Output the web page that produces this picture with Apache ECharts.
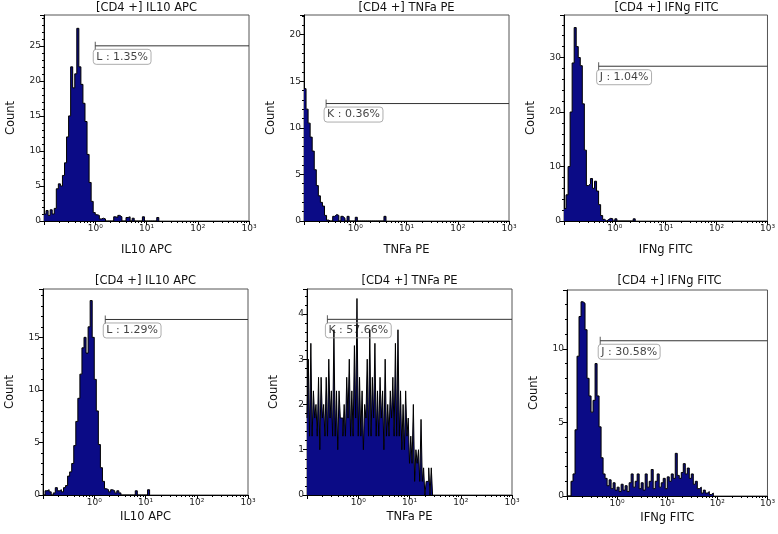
<!DOCTYPE html>
<html>
<head>
<meta charset="utf-8">
<script src="https://cdn.jsdelivr.net/npm/echarts@6/dist/echarts.min.js"></script>
<style>
  *{margin: 0; padding: 0;}
  html,body{width: 100%; height: 100%; background: #fff;}
  #chart{width: 778px; height: 534px;}
</style>
</head>
<body>
<div id="chart"></div>
<script>
// histogram counts, one value per bin; bins start at log10 = -1
var binStart = -1
var binStep = [0.04, 0.04, 0.04, 0.04, 0.025, 0.04]

var il10Top = [1, 1.5, 0.8, 1.6, 1.0, 1.8, 4.6, 5.3, 5.0, 6.5, 8.3, 12, 15, 22, 19, 21, 27.5, 22, 19.5, 16.8,
  14.2, 9.5, 5.5, 2.8, 1.2, 0.9, 0.8, 0.3, 0.4, 0.3, 0, 0, 0, 0, 0.6, 0.5, 0.8, 0.6, 0, 0,
  0.5, 0.6, 0, 0.4, 0, 0, 0, 0, 0.6, 0, 0, 0, 0, 0, 0, 0.5]
var tnfaTop = [14.2, 12, 10.5, 9, 7.5, 5.5, 3.8, 2.7, 2, 1.6, 0.6, 0.1, 0, 0, 0.5, 0.7, 0.6, 0, 0.5, 0.3,
  0, 0.5, 0, 0, 0, 0.4, 0, 0, 0, 0, 0, 0, 0, 0, 0, 0, 0, 0, 0, 0.5]
var ifngTop = [2.3, 4.8, 10, 20, 29, 35.5, 32, 30, 28.5, 21.5, 13, 6.5, 6.8, 7.8, 6, 7.3, 5.5, 3, 1, 0.3,
  0, 0.3, 0.5, 0.4, 0, 0.4, 0, 0, 0, 0, 0, 0, 0, 0, 0.4]
var il10Bottom = [0, 0.4, 0.5, 0.3, 0, 0.2, 0.7, 0.4, 0.5, 0.3, 0.7, 0.9, 1.8, 2.2, 3, 4.7, 7, 9.2, 11.5, 14,
  15, 13.5, 16, 18.5, 15, 11, 8, 4.8, 2.6, 1.3, 0.6, 0.5, 0.3, 0.5, 0.4, 0.2, 0.4, 0.2, 0, 0,
  0, 0, 0, 0, 0, 0.4, 0, 0, 0, 0, 0, 0.5]
var tnfaBottom = [1.7, 3.0, 1.3, 3.35, 1.3, 2.3, 1.7, 2.0, 1.3, 2.6, 1.0, 2.6, 1.7, 2.0, 1.3, 2.6, 1.3, 3.0, 1.7, 2.3,
  1.3, 3.65, 1.3, 2.3, 1.0, 2.3, 1.7, 1.7, 1.3, 2.0, 1.3, 2.6, 1.7, 3.0, 1.3, 2.3, 1.3, 3.3, 1.7, 4.34,
  1.3, 2.6, 1.3, 2.3, 1.0, 2.0, 1.7, 3.0, 1.3, 3.65, 1.3, 2.6, 1.7, 3.35, 1.3, 2.3, 1.3, 2.6, 1.7, 2.3,
  1.0, 3.0, 1.3, 2.0, 1.3, 2.3, 1.7, 2.6, 1.3, 3.35, 1.3, 3.65, 1.3, 2.3, 1.0, 2.0, 1.0, 2.3, 1.3, 1.7,
  0.7, 1.3, 0.7, 2.0, 0.3, 1.0, 0.7, 1.0, 0.3, 1.67, 0.3, 0.6, 0, 0.3, 0.3, 0.6, 0, 0.6]
var ifngBottom = [0, 0, 1.0, 1.5, 4.5, 9.5, 12.2, 13.2, 13.1, 11.3, 8, 6.8, 5.7, 6.5, 9.0, 6.8, 4.7, 2.6, 1.5, 1.2,
  0.7, 1.1, 0.5, 0.9, 0.4, 0.6, 0.3, 0.8, 0.4, 0.7, 0.3, 0.9, 1.5, 0.6, 1.0, 1.5, 0.5, 0.9, 0.4, 1.5,
  0.6, 1.0, 1.8, 0.5, 1.0, 1.5, 0.6, 0.9, 1.2, 0.5, 1.3, 1.0, 1.5, 1.2, 2.9, 1.4, 1.2, 1.6, 2.2, 1.5,
  1.9, 1.2, 1.5, 0.8, 1.0, 0.5, 0.6, 0.2, 0.4, 0.2, 0.3, 0.1, 0.2]
var countsList = [il10Top, tnfaTop, ifngTop, il10Bottom, tnfaBottom, ifngBottom]

var titles = ['[CD4 +] IL10 APC', '[CD4 +] TNFa PE', '[CD4 +] IFNg FITC',
  '[CD4 +] IL10 APC', '[CD4 +] TNFa PE', '[CD4 +] IFNg FITC']
var axisNames = ['IL10 APC', 'TNFa PE', 'IFNg FITC', 'IL10 APC', 'TNFa PE', 'IFNg FITC']
var yMax = [29.4, 22.1, 37.8, 19.6, 4.55, 14.0]
var yInterval = [5, 5, 10, 5, 1, 5]
var xTickLabels = ['10⁰', '10¹', '10²', '10³']
var xMinorTicks = [0.2, 0.3, 0.4, 0.5, 0.6, 0.7, 0.8, 0.9, 2, 3, 4, 5, 6, 7, 8, 9,
  20, 30, 40, 50, 60, 70, 80, 90, 200, 300, 400, 500, 600, 700, 800, 900]

// gates
var gateStart = [1.0, 0.27, 0.48, 1.64, 0.25, 0.46]
var gateLevel = [25, 12.6, 28.4, 16.7, 3.88, 10.55]
var gateText = ['L : 1.35%', 'K : 0.36%', 'J : 1.04%', 'L : 1.29%', 'K : 57.66%', 'J : 30.58%']

var FONT = 'DejaVu Sans'
var gridPos = [[44, 15], [304, 15], [564, 15], [43, 289], [307, 289], [567, 290]]

function histPoints(i) {
  var c = countsList[i]
  var pts = []
  for (var k = 0; k < c.length; k++) {
    pts.push([Math.pow(10, binStart + k * binStep[i]), c[k]])
  }
  pts.push([Math.pow(10, binStart + c.length * binStep[i]), 0])
  return pts
}

function xLabel(v) {
  var p = Math.round(Math.log(v) / Math.LN10)
  return p >= 0 ? xTickLabels[p] : ''
}

var grids = [], xAxes = [], yAxes = [], series = [], texts = []
for (var i = 0; i < 6; i++) {
  var topRow = i < 3
  grids.push({
    left: gridPos[i][0], top: gridPos[i][1], width: 205, height: 206,
    show: true, borderColor: '#555', borderWidth: 1
  })
  xAxes.push({
    type: 'log', logBase: 10, gridIndex: i, min: 0.1, max: 1000, position: 'bottom',
    name: axisNames[i], nameLocation: 'middle', nameGap: topRow ? 23 : 16,
    nameTextStyle: { fontSize: 11.5, color: '#111', fontFamily: FONT },
    axisLine: { lineStyle: { color: '#000' } },
    axisTick: { length: 4, lineStyle: { color: '#000' } },
    axisLabel: { fontSize: 9, color: '#222', margin: 3, fontFamily: FONT, formatter: xLabel },
    splitLine: { show: false }
  })
  yAxes.push({
    type: 'value', gridIndex: i, min: 0, max: yMax[i], interval: yInterval[i],
    name: 'Count', nameLocation: 'middle', nameGap: 27,
    nameTextStyle: { fontSize: 11.5, color: '#111', fontFamily: FONT },
    axisLine: { show: true, lineStyle: { color: '#000' } },
    axisTick: { show: true, length: 4, lineStyle: { color: '#000' } },
    minorTick: { show: true, splitNumber: 5, length: 2, lineStyle: { color: '#000' } },
    axisLabel: { fontSize: 9, color: '#222', margin: 3, fontFamily: FONT, showMaxLabel: false },
    splitLine: { show: false }
  })
  texts.push({
    type: 'text', x: gridPos[i][0] + 102.5, y: topRow ? 8.5 : 281,
    style: { text: titles[i], font: '11.5px "DejaVu Sans"', fill: '#111', align: 'center', verticalAlign: 'middle' }
  })
  series.push({
    type: 'line', xAxisIndex: i, yAxisIndex: i, data: histPoints(i), step: 'end',
    symbol: 'none', silent: true, animation: false, z: 2,
    lineStyle: { color: '#000', width: 1 },
    areaStyle: { color: '#0b0b86', opacity: 1 }
  })
  series.push({
    type: 'line', xAxisIndex: i, yAxisIndex: i, symbol: 'none', silent: true, z: 3,
    data: [[gateStart[i], gateLevel[i]], [1000, gateLevel[i]]],
    lineStyle: { color: '#333', width: 1 }
  })
  series.push({
    type: 'scatter', xAxisIndex: i, yAxisIndex: i, silent: true, z: 4,
    data: [[gateStart[i], gateLevel[i]]],
    symbol: 'rect', symbolSize: [1, 8], itemStyle: { color: '#333' },
    label: {
      show: true, formatter: gateText[i], position: [-1.5, 7.5],
      fontSize: 11, fontFamily: FONT, color: '#111', lineHeight: 13,
      padding: [1, 3, 1, 3], borderColor: '#999', borderWidth: 1, borderRadius: 3
    }
  })
}
// minor ticks of the log axes
for (var j = 0; j < 6; j++) {
  xAxes.push({
    type: 'log', logBase: 10, gridIndex: j, min: 0.1, max: 1000, position: 'bottom',
    axisLine: { show: false },
    axisTick: { show: true, length: 2, customValues: xMinorTicks, lineStyle: { color: '#000' } },
    axisLabel: { show: false },
    splitLine: { show: false }
  })
}

var chart = echarts.init(document.getElementById('chart'))
chart.setOption({
  animation: false,
  grid: grids,
  xAxis: xAxes,
  yAxis: yAxes,
  graphic: texts,
  series: series
})
window.addEventListener('resize', () => {
  chart.resize()
}, false)
</script>
</body>
</html>
